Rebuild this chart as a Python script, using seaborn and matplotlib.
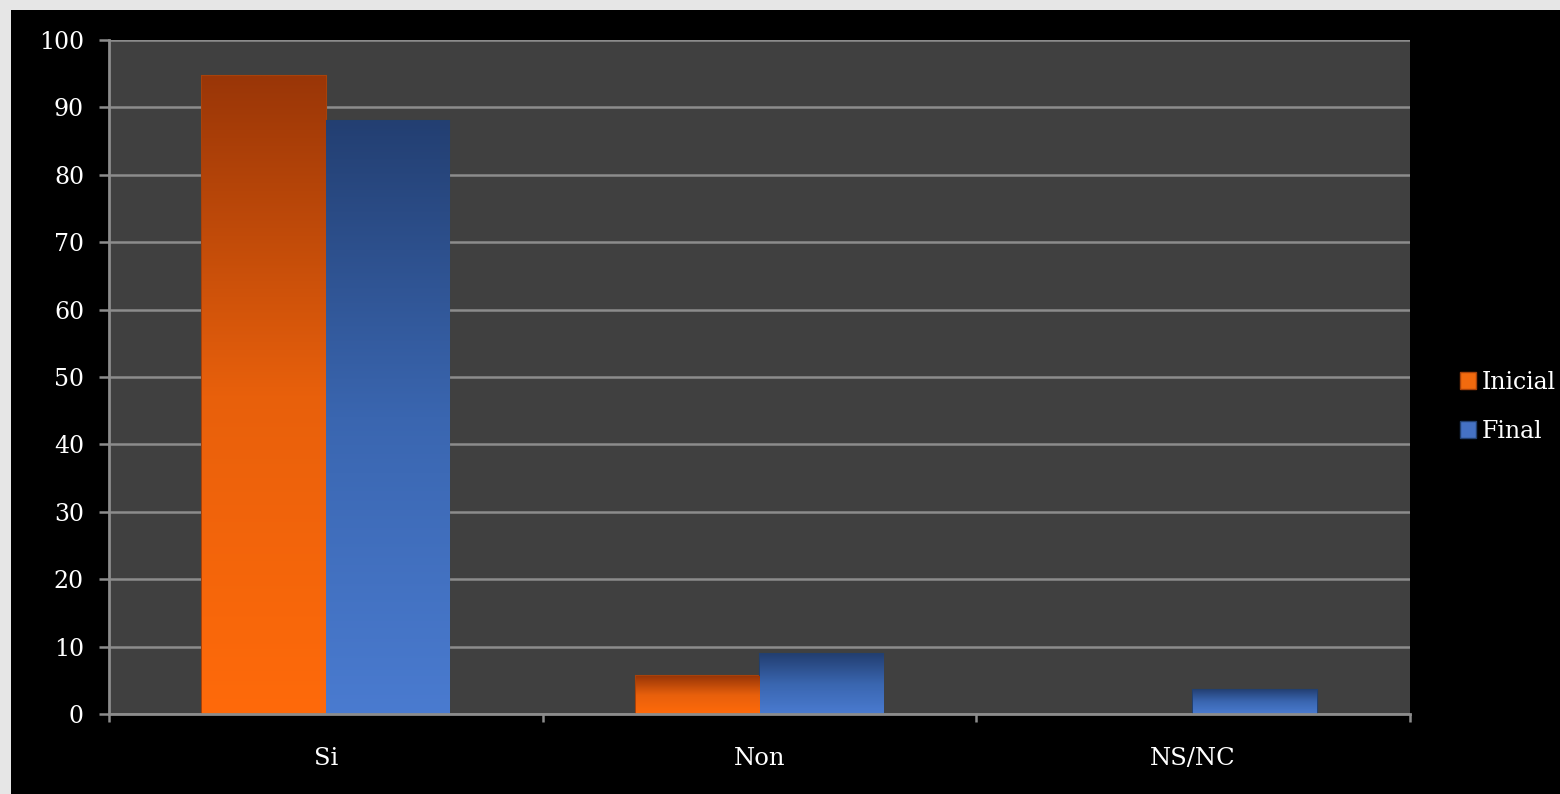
import numpy as np
import pandas as pd
import matplotlib
matplotlib.use('Agg')
import matplotlib.pyplot as plt
from matplotlib.colors import LinearSegmentedColormap
from matplotlib.patches import Rectangle
import seaborn as sns

categories = ['Si', 'Non', 'NS/NC']
inicial = [94.6, 5.6, 0]
final = [88.0, 8.9, 3.6]
series_names = ['Inicial', 'Final']

df = pd.DataFrame({
    'cat': categories * 2,
    'val': inicial + final,
    'serie': [series_names[0]] * 3 + [series_names[1]] * 3,
})

sns.set_theme(style='dark')
plt.rcParams['font.family'] = ['DejaVu Serif']

fig = plt.figure(figsize=(15.6, 7.94), dpi=100, facecolor='#e6e6e6')
# black panel inside the light border
fig.patches.append(Rectangle((11 / 1560, 0), 1 - 11 / 1560, 1 - 10 / 794,
                             transform=fig.transFigure, facecolor='black',
                             edgecolor='none', zorder=-10))
ax = fig.add_axes([109 / 1560, 80 / 794, 1301 / 1560, 674 / 794])
ax.set_facecolor('#404040')

palette = {'Inicial': '#f26a0e', 'Final': '#4572c4'}
sns.barplot(data=df, x='cat', y='val', hue='serie', palette=palette,
            width=0.57, gap=0, ax=ax, legend=False, saturation=1)

# gradient fill for each bar (dark top, bright bottom)
grads = {
    'Inicial': LinearSegmentedColormap.from_list('o', ['#ff6a0a', '#e8600c', '#9a3607']),
    'Final': LinearSegmentedColormap.from_list('b', ['#4a7bd0', '#3a66b0', '#233f72']),
}
edges = {'Inicial': '#a8420a', 'Final': '#22406f'}
n = len(categories)
for i, p in enumerate(ax.patches):
    serie = series_names[i // n] if i < 2 * n else None
    if serie is None:
        continue
    x0, y0 = p.get_x(), p.get_y()
    w, h = p.get_width(), p.get_height()
    if h <= 0:
        p.set_visible(False)
        continue
    p.set_edgecolor(edges[serie])
    p.set_linewidth(1.5)
    grad = np.linspace(0, 1, 256).reshape(-1, 1)
    im = ax.imshow(grad, cmap=grads[serie], aspect='auto',
                   extent=(x0, x0 + w, y0, y0 + h), origin='lower', zorder=p.get_zorder())
    im.set_clip_path(p)

ax.set_xlim(-0.5, 2.5)
ax.set_ylim(0, 100)
ax.set_yticks(range(0, 101, 10))
ax.grid(axis='y', color='#8c8c8c', linewidth=1.8)
ax.grid(axis='x', visible=False)
ax.set_axisbelow(True)

for side in ['top', 'right']:
    ax.spines[side].set_visible(False)
for side in ['left', 'bottom']:
    ax.spines[side].set_visible(True)
    ax.spines[side].set_color('#8c8c8c')
    ax.spines[side].set_linewidth(2)

ax.tick_params(axis='y', colors='#8c8c8c', labelcolor='white', labelsize=17,
               length=7, width=1.8, direction='out', left=True, pad=11)
ax.set_xticks([0, 1, 2])
ax.set_xticklabels(categories)
ax.set_xticks([-0.5, 0.5, 1.5, 2.5], minor=True)
ax.tick_params(axis='x', which='major', length=0, labelcolor='white', labelsize=17.5, pad=24)
ax.tick_params(axis='x', which='minor', colors='#8c8c8c', length=6, width=1.8,
               direction='out', bottom=True)
ax.set_xlabel('')
ax.set_ylabel('')

handles = [Rectangle((0, 0), 1, 1, facecolor=palette[s], edgecolor=edges[s]) for s in series_names]
leg = fig.legend(handles, series_names, loc='center left', bbox_to_anchor=(1448 / 1560, 1 - 407 / 794),
                 frameon=False, fontsize=17, handlelength=0.7, handleheight=0.7,
                 handletextpad=0.25, labelspacing=1.1, borderpad=0)
for t in leg.get_texts():
    t.set_color('white')

fig.savefig('out.png', dpi=100, facecolor=fig.get_facecolor())
